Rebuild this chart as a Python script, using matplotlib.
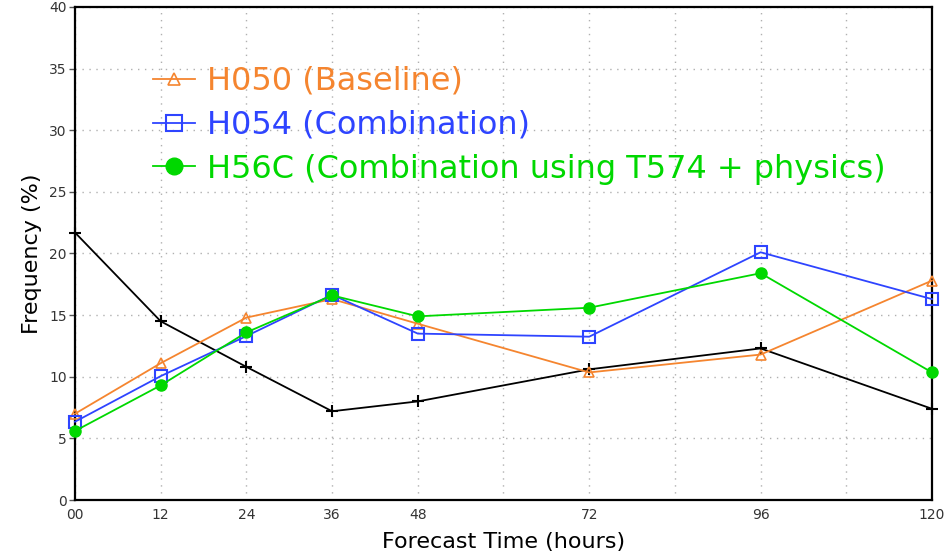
import matplotlib
matplotlib.use("Agg")
import matplotlib.pyplot as plt
from matplotlib.ticker import MultipleLocator

hours = [0, 12, 24, 36, 48, 72, 96, 120]
tick_labels = ["00", "12", "24", "36", "48", "72", "96", "120"]

black_vals = [21.7, 14.5, 10.8, 7.2, 8.0, 10.6, 12.3, 7.4]
h050_vals = [7.0, 11.1, 14.8, 16.3, 14.3, 10.35, 11.8, 17.8]
h054_vals = [6.35, 10.05, 13.3, 16.65, 13.5, 13.25, 20.1, 16.3]
h56c_vals = [5.6, 9.3, 13.6, 16.6, 14.9, 15.6, 18.4, 10.35]

labels = ["H050 (Baseline)", "H054 (Combination)",
          "H56C (Combination using T574 + physics)"]

c_orange = "#F5852F"
c_blue = "#2E44FF"
c_green = "#00D800"

dpi = 100
fig = plt.figure(figsize=(9.51, 5.58), dpi=dpi)
W, H = 951, 558
left, right, top, bottom = 75, 932, 7, 500
ax = fig.add_axes([left / W, 1 - bottom / H, (right - left) / W, (bottom - top) / H])

ax.plot(hours, black_vals, color="black", lw=1.3, marker="+", ms=9, mew=1.5,
        zorder=3, clip_on=False)
l1, = ax.plot(hours, h050_vals, color=c_orange, lw=1.3, marker="^", ms=7,
              mfc="none", mec=c_orange, mew=1.2, label=labels[0], zorder=4, clip_on=False)
l2, = ax.plot(hours, h054_vals, color=c_blue, lw=1.3, marker="s", ms=8,
              mfc="none", mec=c_blue, mew=1.5, label=labels[1], zorder=4, clip_on=False)
l3, = ax.plot(hours, h56c_vals, color=c_green, lw=1.3, marker="o", ms=8,
              mfc=c_green, mec=c_green, label=labels[2], zorder=4, clip_on=False)

ax.set_xlim(0, 120)
ax.set_ylim(0, 40)
ax.set_xticks(hours)
ax.set_xticklabels(tick_labels)
ax.xaxis.set_minor_locator(MultipleLocator(12))
ax.yaxis.set_major_locator(MultipleLocator(5))
ax.grid(True, which="both", axis="x", color="#b0b0b0", ls=(0, (1, 4)), lw=1)
ax.grid(True, which="major", axis="y", color="#b0b0b0", ls=(0, (1, 4)), lw=1)
ax.tick_params(axis="x", which="both", length=0, pad=6, labelsize=10, labelcolor="#333333")
ax.tick_params(axis="y", length=4, width=1, color="#555555", pad=2, labelsize=10, labelcolor="#333333")
for s in ax.spines.values():
    s.set_color("black")
    s.set_linewidth(1.6)

ax.set_ylabel("Frequency (%)", fontsize=16, labelpad=5)
ax.set_xlabel("Forecast Time (hours)", fontsize=16, labelpad=7)

fs = 23
fs_px = fs * dpi / 72
leg = ax.legend(handles=[l1, l2, l3], loc="upper left",
                bbox_to_anchor=((153 - left) / (right - left), 1 - (66 - top) / (bottom - top)),
                frameon=False, fontsize=fs, handlelength=42 / fs_px,
                handletextpad=12 / fs_px, labelspacing=0.4, borderpad=0, borderaxespad=0,
                labelcolor="linecolor")
for h, ms in zip(leg.legend_handles, [8, 12, 12]):
    h.set_markersize(ms)

fig.savefig("out.png", dpi=dpi)
